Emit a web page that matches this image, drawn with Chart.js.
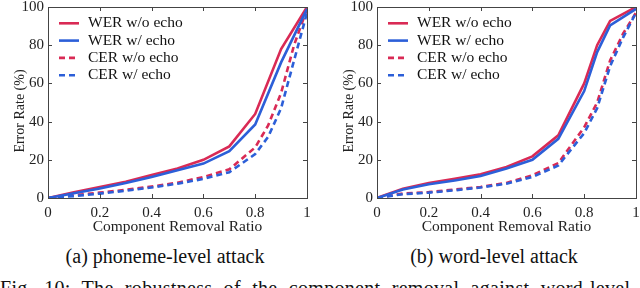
<!DOCTYPE html>
<html>
<head>
<meta charset="utf-8">
<script src="https://cdn.jsdelivr.net/npm/chart.js@4.4.1/dist/chart.umd.min.js"></script>
<style>
  html, body { margin: 0; padding: 0; background: #fff; width: 640px; height: 288px; overflow: hidden; }
  .wrap { position: absolute; top: 0; }
  canvas { display: block; }
  .sub { position: absolute; font-family: "Liberation Serif", "DejaVu Serif", serif; font-size: 20px; line-height: 20px; color: #111; white-space: nowrap; transform: translateX(-50%); }
  .cap { position: absolute; left: 0; top: 277px; font-family: "Liberation Serif", serif; font-size: 20px; line-height: 23px; color: #111; white-space: nowrap; word-spacing: 6px; letter-spacing: 0.3px; }
</style>
</head>
<body>
<div class="wrap" style="left:0px"><canvas id="c1" width="322" height="240"></canvas></div>
<div class="wrap" style="left:329px"><canvas id="c2" width="322" height="240"></canvas></div>
<div class="sub" style="left:165px; top:246px">(a) phoneme-level attack</div>
<div class="sub" style="left:494px; top:246px">(b) word-level attack</div>
<div class="cap">Fig. 10: The robustness of the component removal against word-level and</div>
<script>
// ---- data ----
const ratio = [0, 0.1, 0.2, 0.3, 0.4, 0.5, 0.6, 0.7, 0.8, 0.85, 0.9, 0.95, 1];
const seriesNames = ["WER w/o echo", "WER w/ echo", "CER w/o echo", "CER w/ echo"];
// (a) phoneme-level attack
const phonemeWerNoEcho = [0, 3, 5.8, 8.5, 12, 15.5, 20, 27, 44, null, 78, null, 100];
const phonemeWerEcho   = [0, 2.5, 5, 7.8, 11, 14.5, 18, 24.5, 38.5, null, 71, null, 99];
const phonemeCerNoEcho = [0, 1.5, 2.8, 4.3, 6, 8, 11, 15, 26.5, 38, 55, 80, 99];
const phonemeCerEcho   = [0, 1, 2.3, 3.8, 5.5, 7.5, 10, 13.5, 23, 32, 47, 72, 97];
// (b) word-level attack
const wordWerNoEcho = [0, 4.9, 7.8, 10, 12.4, 16.2, 21.8, 32.8, 60, 80, 92.7, null, 100];
const wordWerEcho   = [0, 4.4, 7.2, 9.2, 11.5, 15.4, 20, 31, 56, 76.4, 90.4, null, 99];
const wordCerNoEcho = [0, 2.3, 3.1, 4.4, 5.8, 7.9, 11.9, 18.3, 37, 50, 72, 86, 97];
const wordCerEcho   = [0, 2, 2.8, 4, 5.5, 7.5, 11, 17, 34, 47, 69, 84, 97];
const xTicks = [0, 0.2, 0.4, 0.6, 0.8, 1];
const yTicks = [0, 20, 40, 60, 80, 100];
const xTitle = "Component Removal Ratio";
const yTitle = "Error Rate (%)";

const RED = "#d92a55";
const BLUE = "#2c5fd8";
const SERIF = "'Liberation Serif', 'DejaVu Serif', serif";

function pts(vals) {
  return vals.map((v, i) => ({ x: ratio[i], y: v }));
}

const framePlugin = {
  id: "frame",
  afterDraw(chart) {
    const { ctx, chartArea: a, scales } = chart;
    ctx.save();
    ctx.strokeStyle = "#444";
    ctx.lineWidth = 1;
    ctx.strokeRect(Math.round(a.left) + 0.5, Math.round(a.top) + 0.5, Math.round(a.right - a.left), Math.round(a.bottom - a.top));
    const tl = 4;
    ctx.beginPath();
    xTicks.forEach(t => {
      const px = Math.round(scales.x.getPixelForValue(t)) + 0.5;
      ctx.moveTo(px, a.bottom); ctx.lineTo(px, a.bottom - tl);
      ctx.moveTo(px, a.top); ctx.lineTo(px, a.top + tl);
    });
    yTicks.forEach(t => {
      const py = Math.round(scales.y.getPixelForValue(t)) + 0.5;
      ctx.moveTo(a.left, py); ctx.lineTo(a.left + tl, py);
      ctx.moveTo(a.right, py); ctx.lineTo(a.right - tl, py);
    });
    ctx.stroke();
    // y-axis title
    ctx.save();
    ctx.translate(a.left - 28, a.top + 104);
    ctx.rotate(-Math.PI / 2);
    ctx.font = "14px " + SERIF;
    ctx.fillStyle = "#222";
    ctx.textAlign = "center";
    ctx.textBaseline = "middle";
    ctx.fillText(yTitle, 0, 0);
    ctx.restore();
    // legend
    ctx.font = "15.5px " + SERIF;
    ctx.textBaseline = "middle";
    ctx.textAlign = "left";
    ctx.fillStyle = "#111";
    chart.data.datasets.forEach((ds, i) => {
      const y = a.top + 16.3 + i * 17.3;
      ctx.beginPath();
      ctx.strokeStyle = ds.borderColor;
      ctx.lineWidth = ds.borderWidth;
      ctx.setLineDash(ds.borderDash || []);
      ctx.moveTo(a.left + 11, y);
      ctx.lineTo(a.left + 31, y);
      ctx.stroke();
      ctx.setLineDash([]);
      ctx.fillText(ds.label, a.left + 40, y);
    });
    ctx.restore();
  }
};

function makeChart(id, werNo, werYes, cerNo, cerYes) {
  const mk = (label, vals, color, dashed, order) => ({
    label, data: pts(vals), borderColor: color, backgroundColor: color,
    borderWidth: 2.6, borderDash: dashed ? [6, 4] : [], pointRadius: 0,
    tension: 0, spanGaps: true, fill: false, order
  });
  new Chart(document.getElementById(id), {
    type: "line",
    data: {
      datasets: [
        mk(seriesNames[0], werNo, RED, false, 2),
        mk(seriesNames[1], werYes, BLUE, false, 1),
        mk(seriesNames[2], cerNo, RED, true, 2),
        mk(seriesNames[3], cerYes, BLUE, true, 1)
      ]
    },
    options: {
      responsive: false,
      animation: false,
      devicePixelRatio: 1,
      layout: { padding: { left: 0, top: 7, right: 15, bottom: 0 } },
      plugins: { legend: { display: false }, tooltip: { enabled: false } },
      scales: {
        x: {
          type: "linear", min: 0, max: 1,
          afterBuildTicks: s => { s.ticks = xTicks.map(v => ({ value: v })); },
          afterFit: s => { s.height = 42; s.paddingLeft = 0; s.paddingRight = 0; },
          grid: { display: false, drawTicks: false },
          border: { display: false },
          ticks: { padding: 6, color: "#222", font: { family: SERIF, size: 15 }, maxRotation: 0,
                   callback: v => String(v) },
          title: { display: true, text: xTitle, color: "#222",
                   font: { family: SERIF, size: 15.5 }, padding: { top: 0, bottom: 4 } }
        },
        y: {
          type: "linear", min: 0, max: 100,
          afterBuildTicks: s => { s.ticks = yTicks.map(v => ({ value: v })); },
          afterFit: s => { s.width = 48; s.paddingTop = 0; s.paddingBottom = 0; },
          grid: { display: false, drawTicks: false },
          border: { display: false },
          ticks: { padding: 4, color: "#222", font: { family: SERIF, size: 15 } },
          title: { display: false }
        }
      }
    },
    plugins: [framePlugin]
  });
}

makeChart("c1", phonemeWerNoEcho, phonemeWerEcho, phonemeCerNoEcho, phonemeCerEcho);
makeChart("c2", wordWerNoEcho, wordWerEcho, wordCerNoEcho, wordCerEcho);
</script>
</body>
</html>
